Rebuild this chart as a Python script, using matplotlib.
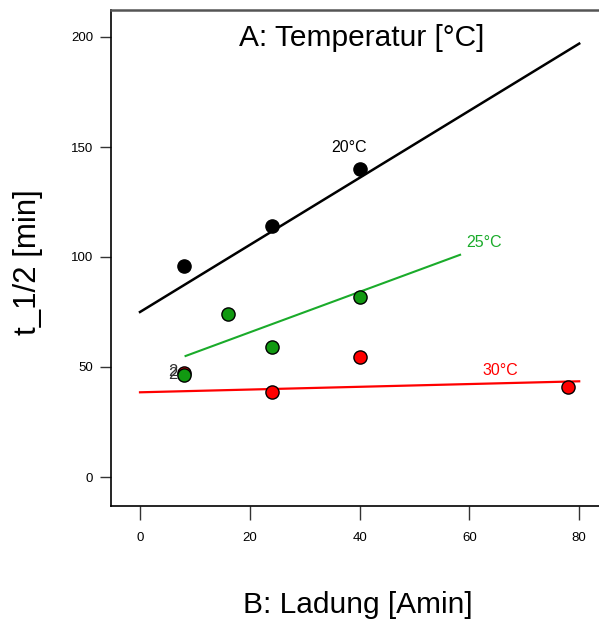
import matplotlib
matplotlib.use("Agg")
import matplotlib.pyplot as plt

plt.rcParams['font.family'] = ['Liberation Sans', 'DejaVu Sans']

# Measured half-life values per temperature
x_20 = [8, 24, 40]
y_20 = [96, 114, 140]
x_25 = [8, 16, 24, 40]
y_25 = [46.5, 74, 59, 82]
x_30 = [8, 24, 40, 78]
y_30 = [47.5, 38.5, 54.5, 41]

# Fitted model lines (end points)
fit20_x = [0, 80]
fit20_y = [75, 197]
fit25_x = [8.3, 58.3]
fit25_y = [55, 101]
fit30_x = [0, 80]
fit30_y = [38.5, 43.5]

xticks = [0, 20, 40, 60, 80]
yticks = [0, 50, 100, 150, 200]

W, H = 599, 623
fig = plt.figure(figsize=(W / 100, H / 100), dpi=100)
# axes box in pixel terms: left 111, top 10, bottom 506, right past the edge
left, right, top, bottom = 111, 605, 10, 506
ax = fig.add_axes([left / W, 1 - bottom / H, (right - left) / W, (bottom - top) / H])

x0_px, px_per_x = 140, 5.49
y0_px, px_per_y = 477, 2.2
ax.set_xlim((left - x0_px) / px_per_x, (right - x0_px) / px_per_x)
ax.set_ylim((y0_px - bottom) / px_per_y, (y0_px - top) / px_per_y)

green = '#1aab2a'
ax.plot(fit20_x, fit20_y, color='black', lw=1.8, zorder=2)
ax.plot(fit25_x, fit25_y, color=green, lw=1.5, zorder=2)
ax.plot(fit30_x, fit30_y, color='#ff0000', lw=1.6, zorder=2)

ms = 9.5
ax.plot(x_20, y_20, 'o', ms=ms, mfc='black', mec='black', mew=1, zorder=3)
ax.plot(x_30, y_30, 'o', ms=ms, mfc='#ff0000', mec='black', mew=1, zorder=3)
ax.plot(x_25, y_25, 'o', ms=ms, mfc='#119911', mec='black', mew=1, zorder=4)

# replicate counts at the shared design point
ax.text(x_30[0] - 1.2, y_30[0] + 0.6, '2', color='#333333', fontsize=12,
        ha='right', va='center', zorder=5)
ax.text(x_25[0] - 1.2, y_25[0] + 0.2, '2', color='#333333', fontsize=12,
        ha='right', va='center', zorder=5)

ax.text(38, 150, '20°C', color='black', fontsize=11.5, ha='center', va='center')
ax.text(62.7, 106.4, '25°C', color=green, fontsize=11.5, ha='center', va='center')
ax.text(65.7, 48.3, '30°C', color='#ff0000', fontsize=11.5, ha='center', va='center')

ax.text(40.3, 199.5, 'A: Temperatur [°C]', fontsize=21.5, ha='center', va='center')

ax.set_xticks(xticks)
ax.set_yticks(yticks)
ax.tick_params(axis='both', direction='out', width=1, colors='#333333',
               labelsize=9.5, labelcolor='black')
ax.tick_params(axis='y', length=8, pad=5)
ax.tick_params(axis='x', length=10, pad=9)

for s in ['left', 'bottom']:
    ax.spines[s].set_color('black')
    ax.spines[s].set_linewidth(1.2)
ax.spines['top'].set_color('#555555')
ax.spines['top'].set_linewidth(1.8)
ax.spines['right'].set_visible(False)

fig.text(28 / W, 1 - 262 / H, 't_1/2 [min]', rotation=90, fontsize=22.5,
         ha='center', va='center')
fig.text(358 / W, 1 - 605 / H, 'B: Ladung [Amin]', fontsize=21.5,
         ha='center', va='center')

fig.savefig('out.png', dpi=100)
